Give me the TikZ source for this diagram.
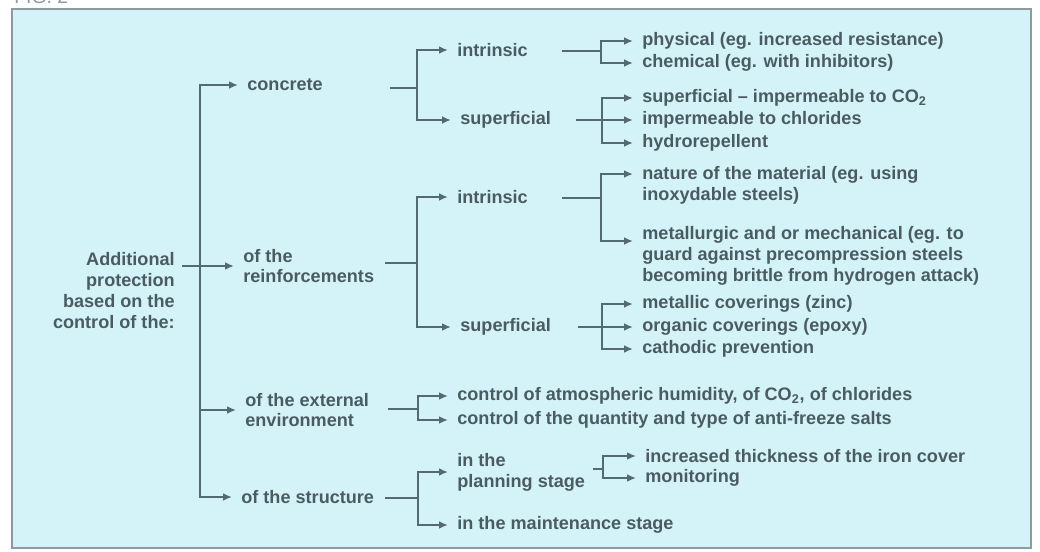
\documentclass[tikz,border=0pt]{standalone}
\usepackage{fontspec}
\setmainfont{Liberation Sans}
\usetikzlibrary{arrows.meta, calc}
\definecolor{fondoCian}{HTML}{D4F3F8}
\definecolor{textoGris}{HTML}{4A5C61}
\definecolor{lineaGris}{HTML}{536B70}
\definecolor{bordeGris}{HTML}{8C9B9E}

\begin{document}
\begin{tikzpicture}[x=0.02cm, y=-0.02cm,
        lbl/.style={anchor=west, inner sep=0pt, align=left, text=textoGris,
            font=\bfseries\fontsize{10.3}{11.9}\selectfont},
        lblml/.style={lbl, anchor=north west},
        lin/.style={lineaGris, line width=1.1pt},
        rel/.style={lin, -{Latex[length=5pt, width=4.3pt]}, shorten >=0.18cm}
    ]
        \useasboundingbox (0,0) rectangle (1040,551);
        \node[anchor=base west, inner sep=0pt, text=bordeGris, font=\fontsize{11}{13}\selectfont] (fig) at (14,4) {FIG. 2};
        \draw[bordeGris, fill=fondoCian, line width=1.1pt] (12,9) rectangle (1031,548);

        \node[lbl, anchor=north east, align=right] (raiz) at (175,252) {Additional\\protection\\based on the\\control of the:};
        \node[lbl] (conc) at (247,85) {concrete};
        \node[lbl] (refu) at (243,266) {of the\\reinforcements};
        \node[lbl] (ext) at (245,410) {of the external\\environment};
        \node[lbl] (estr) at (241,497) {of the structure};

        \coordinate (r0) at (182,266);
        \coordinate (bus) at (200,266);
        \draw[rel] (r0) -- (refu.west);
        \draw[rel] (bus) |- (conc.west);
        \draw[rel] (bus) |- (ext.west);
        \draw[rel] (bus) |- (estr.west);

        \node[lbl] (intr1) at (457,50) {intrinsic};
        \node[lbl] (supe1) at (460,120) {superficial};
        \coordinate (a1) at (390,88);
        \coordinate (j1) at (417,88);
        \draw[lin] (a1) -- (j1);
        \draw[rel] (j1) |- (intr1.west);
        \draw[rel] (j1) |- (supe1.west);

        \node[lbl] (fisi) at (642,41) {physical (eg. increased resistance)};
        \node[lbl] (quim) at (642,63) {chemical (eg. with inhibitors)};
        \coordinate (a11) at (562,51);
        \coordinate (j11) at (601,51);
        \draw[lin] (a11) -- (j11);
        \draw[rel] (j11) |- (fisi.west);
        \draw[rel] (j11) |- (quim.west);

        \node[lbl] (co2) at (642,98) {superficial -- impermeable to CO\textsubscript{2}};
        \node[lbl] (clor) at (642,120) {impermeable to chlorides};
        \node[lbl] (hidr) at (642,143) {hydrorepellent};
        \coordinate (a12) at (576,120);
        \coordinate (j12) at (602,120);
        \draw[lin] (a12) -- (j12);
        \draw[rel] (j12) |- (co2.west);
        \draw[rel] (j12) |- (clor.west);
        \draw[rel] (j12) |- (hidr.west);

        \node[lbl] (intr2) at (457,197) {intrinsic};
        \node[lbl] (supe2) at (460,327) {superficial};
        \coordinate (a2) at (385,263);
        \coordinate (j2) at (417,263);
        \draw[lin] (a2) -- (j2);
        \draw[rel] (j2) |- (intr2.west);
        \draw[rel] (j2) |- (supe2.west);

        \node[lblml] (natu) at (642,166) {nature of the material (eg. using\\inoxydable steels)};
        \node[lblml] (meta) at (642,226) {metallurgic and or mechanical (eg. to\\guard against precompression steels\\becoming brittle from hydrogen attack)};
        \coordinate (a21) at (562,198);
        \coordinate (j21) at (601,198);
        \draw[lin] (a21) -- (j21);
        \draw[rel] (j21) |- ($(natu.north west)+(0,8)$);
        \draw[rel] (j21) |- ($(meta.north west)+(0,15)$);

        \node[lbl] (metl) at (642,304) {metallic coverings (zinc)};
        \node[lbl] (orga) at (642,327) {organic coverings (epoxy)};
        \node[lbl] (cato) at (642,349) {cathodic prevention};
        \coordinate (a22) at (578,327);
        \coordinate (j22) at (602,327);
        \draw[lin] (a22) -- (j22);
        \draw[rel] (j22) |- (metl.west);
        \draw[rel] (j22) |- (orga.west);
        \draw[rel] (j22) |- (cato.west);

        \node[lbl] (atmo) at (457,396) {control of atmospheric humidity, of CO\textsubscript{2}, of chlorides};
        \node[lbl] (sale) at (457,420) {control of the quantity and type of anti-freeze salts};
        \coordinate (a3) at (388,409);
        \coordinate (j3) at (418,409);
        \draw[lin] (a3) -- (j3);
        \draw[rel] (j3) |- (atmo.west);
        \draw[rel] (j3) |- (sale.west);

        \node[lbl] (proy) at (457,472) {in the\\planning stage};
        \node[lbl] (mant) at (457,525) {in the maintenance stage};
        \coordinate (a4) at (385,498);
        \coordinate (j4) at (418,498);
        \draw[lin] (a4) -- (j4);
        \draw[rel] (j4) |- (proy.west);
        \draw[rel] (j4) |- (mant.west);

        \node[lbl] (espe) at (645,456) {increased thickness of the iron cover};
        \node[lbl] (moni) at (645,478) {monitoring};
        \coordinate (a41) at (593,469);
        \coordinate (j41) at (603,469);
        \draw[lin] (a41) -- (j41);
        \draw[rel] (j41) |- (espe.west);
        \draw[rel] (j41) |- (moni.west);
    \end{tikzpicture}
\end{document}
